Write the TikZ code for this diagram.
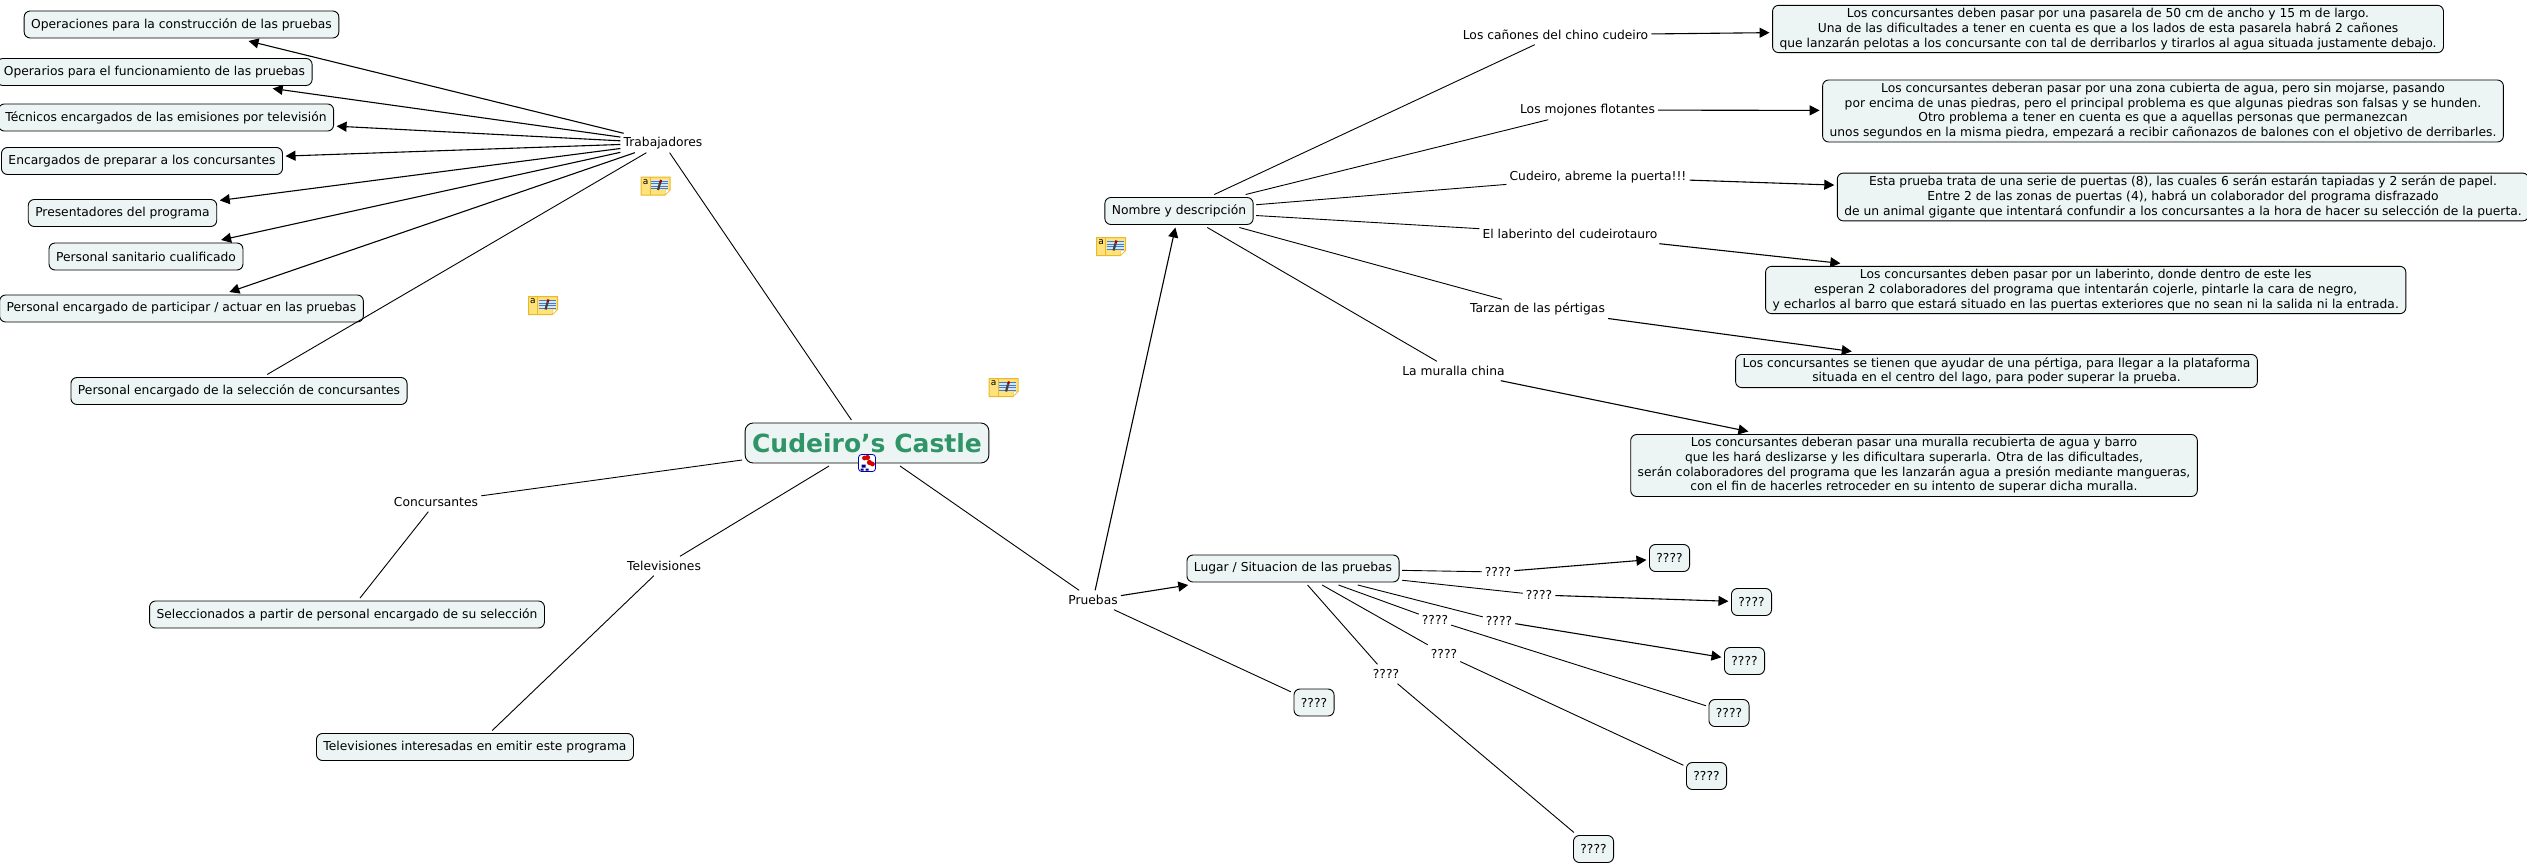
\documentclass[tikz,border=0pt]{standalone}
\usepackage{fontspec}
\setmainfont{DejaVu Sans}
\usepackage{xcolor}
\usetikzlibrary{arrows.meta}
\definecolor{boxfill}{HTML}{EDF4F4}
\definecolor{titlegreen}{HTML}{2F9467}
\definecolor{notefill}{HTML}{FFE27A}
\definecolor{noteedge}{HTML}{E9B82B}
\definecolor{noteblue}{HTML}{3F7FC8}
\tikzset{
  notepic/.pic={
    \draw[noteedge,fill=notefill,line width=1pt] (0,0) -- (29,0) -- (29,13) -- (24,18) -- (0,18) -- cycle;
    \draw[noteedge,fill=white] (29,13) -- (24.5,13) -- (24,18) -- cycle;
    \draw[noteedge,line width=.6pt] (9,0) -- (9,18);
    \node[inner sep=0,font=\fontsize{9}{9}\selectfont] (-a) at (4.5,5) {a};
    \fill[white!80!noteblue] (10,3) rectangle (27,12);
    \foreach \yy in {4,6.5,9,11.5}{\draw[noteblue,line width=.7pt] (10,\yy) -- (27,\yy);}
    \draw[black!75,line width=2.2pt] (17,13) -- (19,6);
    \draw[red!65!black,line width=2.2pt] (19,6) -- (20,3);
  },
  mappic/.pic={
    \draw[blue!70!black,fill=white,rounded corners=3pt,line width=.8pt] (0,0) rectangle (17,17);
    \fill[red!85!black] (6,3.5) circle (2.4) (9,3) circle (2.6) (11,8) circle (2.6) (14,9.5) circle (2.4);
    \fill[blue!50!black] (3,10) rectangle (7,13) (2,14) rectangle (5,16) (7,14) rectangle (10,16);
  }
}
\begin{document}
\begin{tikzpicture}[x=1pt,y=-1pt,>={Triangle[length=10pt,width=10pt]},
  every node/.style={font=\fontsize{12.3}{14.7}\selectfont},
  box/.style={draw,fill=boxfill,rounded corners=6pt,align=center,inner xsep=7pt,inner ysep=3pt,minimum height=27pt,outer sep=3pt,line width=.9pt},
  lbl/.style={inner xsep=3pt,inner ysep=0pt,minimum height=19pt},
  link/.style={line width=.9pt},
  arr/.style={->,line width=1.1pt}]
\useasboundingbox (0,0) rectangle (2527,864);

\node[box,minimum height=40pt,rounded corners=8pt,font=\fontsize{25}{28}\bfseries\selectfont,text=titlegreen] (castle) at (867,443) {Cudeiro's Castle};

\node[lbl] (trab) at (663,143) {Trabajadores};
\node[lbl] (conc) at (436,502) {Concursantes};
\node[lbl] (tele) at (664,566) {Televisiones};
\node[lbl] (prue) at (1093,600) {Pruebas};

\node[box] (oper) at (181.5,24.5) {Operaciones para la construcción de las pruebas};
\node[box] (func) at (154.5,72) {Operarios para el funcionamiento de las pruebas};
\node[box] (tecn) at (166,117.5) {Técnicos encargados de las emisiones por televisión};
\node[box] (prep) at (142,161) {Encargados de preparar a los concursantes};
\node[box] (pres) at (122.5,213) {Presentadores del programa};
\node[box] (sani) at (146,256.5) {Personal sanitario cualificado};
\node[box] (part) at (181.5,308.5) {Personal encargado de participar / actuar en las pruebas};
\node[box] (sele) at (239,391) {Personal encargado de la selección de concursantes};
\node[box] (secc) at (347,614.5) {Seleccionados a partir de personal encargado de su selección};
\node[box] (emit) at (475,747) {Televisiones interesadas en emitir este programa};

\node[box] (nomb) at (1179,211) {Nombre y descripción};
\node[box] (luga) at (1293,568.5) {Lugar / Situacion de las pruebas};
\node[box] (qpru) at (1314,702.5) {????};

\node[lbl] (canl) at (1555.5,35) {Los cañones del chino cudeiro};
\node[lbl] (mojl) at (1587.5,110) {Los mojones flotantes};
\node[lbl] (puel) at (1598,177) {Cudeiro, abreme la puerta!!!};
\node[lbl] (labl) at (1570,234) {El laberinto del cudeirotauro};
\node[lbl] (tarl) at (1537.5,309) {Tarzan de las pértigas};
\node[lbl] (murl) at (1453.5,371) {La muralla china};

\node[box] (canb) at (2108,29) {Los concursantes deben pasar por una pasarela de 50 cm de ancho y 15 m de largo.\\Una de las dificultades a tener en cuenta es que a los lados de esta pasarela habrá 2 cañones\\que lanzarán pelotas a los concursante con tal de derribarlos y tirarlos al agua situada justamente debajo.};
\node[box] (mojb) at (2163,111) {Los concursantes deberan pasar por una zona cubierta de agua, pero sin mojarse, pasando\\por encima de unas piedras, pero el principal problema es que algunas piedras son falsas y se hunden.\\Otro problema a tener en cuenta es que a aquellas personas que permanezcan\\unos segundos en la misma piedra, empezará a recibir cañonazos de balones con el objetivo de derribarles.};
\node[box] (pueb) at (2183,197) {Esta prueba trata de una serie de puertas (8), las cuales 6 serán estarán tapiadas y 2 serán de papel.\\Entre 2 de las zonas de puertas (4), habrá un colaborador del programa disfrazado\\de un animal gigante que intentará confundir a los concursantes a la hora de hacer su selección de la puerta.};
\node[box] (labb) at (2085.7,290) {Los concursantes deben pasar por un laberinto, donde dentro de este les\\esperan 2 colaboradores del programa que intentarán cojerle, pintarle la cara de negro,\\y echarlos al barro que estará situado en las puertas exteriores que no sean ni la salida ni la entrada.};
\node[box] (tarb) at (1996.5,371) {Los concursantes se tienen que ayudar de una pértiga, para llegar a la plataforma\\situada en el centro del lago, para poder superar la prueba.};
\node[box] (murb) at (1914,465.5) {Los concursantes deberan pasar una muralla recubierta de agua y barro\\que les hará deslizarse y les dificultara superarla. Otra de las dificultades,\\serán colaboradores del programa que les lanzarán agua a presión mediante mangueras,\\con el fin de hacerles retroceder en su intento de superar dicha muralla.};

\node[lbl] (qla) at (1498,572) {????};
\node[lbl] (qlb) at (1539,595) {????};
\node[lbl] (qlc) at (1499,621) {????};
\node[lbl] (qld) at (1435,620) {????};
\node[lbl] (qle) at (1444,654) {????};
\node[lbl] (qlf) at (1386,674) {????};
\node[box] (qba) at (1669.5,558) {????};
\node[box] (qbb) at (1751.5,602) {????};
\node[box] (qbc) at (1744.5,661) {????};
\node[box] (qbd) at (1729,713) {????};
\node[box] (qbe) at (1706.5,776) {????};
\node[box] (qbf) at (1593.5,849) {????};

\foreach \lab in {trab,conc,tele,prue}{\draw[link] (castle) -- (\lab);}
\foreach \dst in {oper,func,tecn,prep,pres,sani,part}{\draw[arr] (trab) -- (\dst);}
\draw[link] (trab) -- (sele);
\draw[link] (conc) -- (secc);
\draw[link] (tele) -- (emit);
\draw[arr] (prue) -- (nomb);
\draw[arr] (prue) -- (luga);
\draw[link] (prue) -- (qpru);

\foreach \lab/\dst in {canl/canb,mojl/mojb,puel/pueb,labl/labb,tarl/tarb,murl/murb}{
  \draw[link] (nomb) -- (\lab);
  \draw[arr] (\lab) -- (\dst);
}
\foreach \lab/\dst in {qla/qba,qlb/qbb,qlc/qbc}{
  \draw[link] (luga) -- (\lab);
  \draw[arr] (\lab) -- (\dst);
}
\foreach \lab/\dst in {qld/qbd,qle/qbe,qlf/qbf}{
  \draw[link] (luga) -- (\lab);
  \draw[link] (\lab) -- (\dst);
}

\pic (notea) at (641,177) {notepic};
\pic (noteb) at (528.5,296.5) {notepic};
\pic (notec) at (989,378.5) {notepic};
\pic (noted) at (1096.5,237.5) {notepic};
\pic (mapa) at (858.5,454.5) {mappic};
\end{tikzpicture}
\end{document}
